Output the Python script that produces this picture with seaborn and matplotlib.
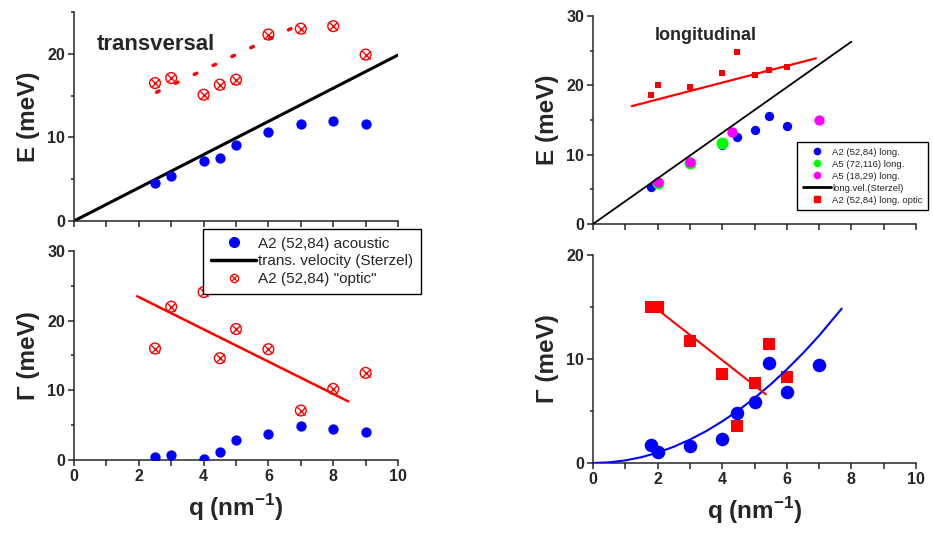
import numpy as np
import pandas as pd
import seaborn as sns
import matplotlib.pyplot as plt
from matplotlib.lines import Line2D
from matplotlib.legend_handler import HandlerTuple
from matplotlib.ticker import MultipleLocator

# ---- transversal data ----
t_q = [2.5, 3, 4, 4.5, 5, 6, 7, 8, 9]
t_E_ac = [4.55, 5.4, 7.2, 7.5, 9.05, 10.7, 11.6, 11.9, 11.65]
t_E_op = [16.5, 17.1, 15.1, 16.3, 16.9, 22.3, 23.0, 23.3, 19.9]
t_G_ac = [0.4, 0.65, 0.15, 1.15, 2.9, 3.75, 4.95, 4.45, 3.95]
t_G_op = [16.0, 22.0, 24.1, 14.6, 18.8, 15.9, 7.1, 10.2, 12.5]
t_vel_q = [0, 10]
t_vel_E = [0, 19.85]
t_opfit_q = [2.55, 6.75]
t_opfit_E = [15.4, 23.1]
t_Gfit_q = [1.95, 8.47]
t_Gfit = [23.5, 8.4]

# ---- longitudinal data ----
l_q_a2 = [1.8, 2.0, 4.0, 4.45, 5.0, 5.45, 6.0]
l_E_a2 = [5.4, 6.1, 11.4, 12.5, 13.6, 15.6, 14.1]
l_q_a5 = [2.0, 3.0, 4.0]
l_E_a5 = [5.9, 8.85, 11.7]
l_q_a5b = [2.0, 3.0, 4.3, 7.0]
l_E_a5b = [6.1, 8.95, 13.2, 15.0]
l_vel_q = [0, 8]
l_vel_E = [0, 26.3]
l_q_op = [1.8, 2.0, 3.0, 4.0, 4.45, 5.0, 5.45, 6.0]
l_E_op = [18.6, 20.0, 19.8, 21.8, 24.8, 21.5, 22.2, 22.6]
l_opfit_q = [1.2, 6.9]
l_opfit_E = [17.0, 23.9]
l_q_G = [1.8, 2.0, 3.0, 4.0, 4.45, 5.0, 5.45, 6.0, 7.0]
l_G_ac = [1.75, 1.05, 1.6, 2.3, 4.8, 5.85, 9.65, 6.85, 9.4]
l_G_op = [15.0, 15.0, 11.75, 8.55, 3.6, 7.65, 11.45, 8.3]
l_Gopfit_q = [1.9, 5.35]
l_Gopfit = [15.0, 6.6]
l_Gacfit_q = [0, 0.5, 1, 1.5, 2, 2.5, 3, 3.5, 4, 4.5, 5, 5.5, 6, 6.5, 7, 7.7]
l_Gacfit = [0, 0.06, 0.25, 0.56, 1.0, 1.56, 2.25, 3.06, 4.0, 5.06, 6.25, 7.56, 9.0, 10.56, 12.25, 14.85]

sns.set_style("ticks")
plt.rcParams['font.family'] = ['Liberation Sans', 'DejaVu Sans']
plt.rcParams['mathtext.fontset'] = 'custom'
plt.rcParams['mathtext.bf'] = 'Liberation Sans:bold'
plt.rcParams['mathtext.rm'] = 'Liberation Sans:bold'

fig = plt.figure(figsize=(9.33, 5.36), dpi=100)
ax_tl = fig.add_axes([0.0793, 0.5877, 0.3473, 0.390])
ax_bl = fig.add_axes([0.0793, 0.1418, 0.3473, 0.390])
ax_tr = fig.add_axes([0.6356, 0.5821, 0.3462, 0.388])
ax_br = fig.add_axes([0.6356, 0.1362, 0.3462, 0.388])

BLUE, RED, GREEN, MAG = '#0000ff', '#ff0000', '#00ff00', '#ff00ff'


def optic_marks(ax, x, y, s=60):
    # circle with a cross inside
    sns.scatterplot(x=x, y=y, ax=ax, marker='o', s=s, facecolor='none',
                    edgecolor=RED, linewidth=1.0, zorder=4)
    sns.scatterplot(x=x, y=y, ax=ax, marker='x', s=s * 0.6, color=RED,
                    linewidth=1.0, zorder=4)


# top left: transversal E
sns.lineplot(x=t_vel_q, y=t_vel_E, ax=ax_tl, color='black', linewidth=2.2)
sns.lineplot(x=t_opfit_q, y=t_opfit_E, ax=ax_tl, color=RED, linewidth=2.5,
             linestyle=(0, (0.8, 5.2)), dash_capstyle='round')
sns.scatterplot(x=t_q, y=t_E_ac, ax=ax_tl, color=BLUE, s=55, linewidth=0, zorder=4)
optic_marks(ax_tl, t_q, t_E_op)
ax_tl.text(0.7, 20.5, 'transversal', fontsize=16, fontweight='bold')

# bottom left: transversal Gamma
sns.lineplot(x=t_Gfit_q, y=t_Gfit, ax=ax_bl, color=RED, linewidth=1.8)
sns.scatterplot(x=t_q, y=t_G_ac, ax=ax_bl, color=BLUE, s=55, linewidth=0, zorder=4)
optic_marks(ax_bl, t_q, t_G_op)

# top right: longitudinal E
sns.scatterplot(x=l_q_a2, y=l_E_a2, ax=ax_tr, color=BLUE, s=45, linewidth=0, zorder=3)
sns.scatterplot(x=l_q_a5, y=l_E_a5, ax=ax_tr, color=GREEN, s=75, linewidth=0, zorder=3)
sns.scatterplot(x=l_q_a5b, y=l_E_a5b, ax=ax_tr, color=MAG, s=55, linewidth=0, zorder=3)
sns.lineplot(x=l_vel_q, y=l_vel_E, ax=ax_tr, color='black', linewidth=1.3, zorder=4)
sns.lineplot(x=l_opfit_q, y=l_opfit_E, ax=ax_tr, color=RED, linewidth=1.6)
sns.scatterplot(x=l_q_op, y=l_E_op, ax=ax_tr, color=RED, marker='s', s=20, linewidth=0, zorder=3)
ax_tr.text(1.92, 26.5, 'longitudinal', fontsize=13, fontweight='bold')

# bottom right: longitudinal Gamma
sns.scatterplot(x=l_q_G, y=l_G_ac, ax=ax_br, color=BLUE, s=95, linewidth=0, zorder=3)
sns.scatterplot(x=l_q_op, y=l_G_op, ax=ax_br, color=RED, marker='s', s=85, linewidth=0, zorder=3)
sns.lineplot(x=l_Gacfit_q, y=l_Gacfit, ax=ax_br, color=BLUE, linewidth=1.5, zorder=4)
sns.lineplot(x=l_Gopfit_q, y=l_Gopfit, ax=ax_br, color=RED, linewidth=1.5, zorder=4)

ylims = {ax_tl: 25, ax_bl: 30, ax_tr: 30, ax_br: 20}
for ax in [ax_tl, ax_bl, ax_tr, ax_br]:
    ax.set_xlim(0, 10)
    ax.set_ylim(0, ylims[ax])
    for sp in ['top', 'right']:
        ax.spines[sp].set_visible(False)
    for sp in ['left', 'bottom']:
        ax.spines[sp].set_linewidth(1.1)
    ax.xaxis.set_major_locator(MultipleLocator(2))
    ax.xaxis.set_minor_locator(MultipleLocator(1))
    ax.yaxis.set_major_locator(MultipleLocator(10))
    ax.yaxis.set_minor_locator(MultipleLocator(5))
    ax.tick_params(axis='both', which='major', direction='out', length=4.5,
                   width=1.1, labelsize=11.5, pad=2)
    ax.tick_params(axis='x', which='minor', direction='out', length=4.0, width=1.1)
    ax.tick_params(axis='y', which='minor', direction='out', length=2.5, width=1.1)
    for lab in ax.get_xticklabels() + ax.get_yticklabels():
        lab.set_fontweight('bold')
    ax.set_xlabel('')
    ax.patch.set_alpha(0)

ax_tl.tick_params(axis='x', labelbottom=False)
ax_tr.tick_params(axis='x', labelbottom=False)

ax_tl.set_ylabel('E (meV)', fontsize=17.5, fontweight='bold', labelpad=5)
ax_tr.set_ylabel('E (meV)', fontsize=17.5, fontweight='bold', labelpad=5)
ax_bl.set_ylabel('\u0393 (meV)', fontsize=17.5, fontweight='bold', labelpad=5)
ax_br.set_ylabel('\u0393 (meV)', fontsize=17.5, fontweight='bold', labelpad=5)
for ax in [ax_bl, ax_br]:
    ax.set_xlabel(r'q (nm$^{\mathbf{-1}}$)', fontsize=17.5, fontweight='bold', labelpad=6)

# legend transversal
h_ac = Line2D([], [], marker='o', color=BLUE, linestyle='none', markersize=7)
h_vel = Line2D([], [], color='black', linewidth=2.5)
h_op1 = Line2D([], [], marker='o', markerfacecolor='none', markeredgecolor=RED,
               linestyle='none', markersize=6, markeredgewidth=0.9)
h_op2 = Line2D([], [], marker='x', color=RED, linestyle='none', markersize=5,
               markeredgewidth=0.9)
leg1 = fig.legend([h_ac, h_vel, (h_op1, h_op2)],
                  ['A2 (52,84) acoustic', 'trans. velocity (Sterzel)', 'A2 (52,84) "optic"'],
                  handler_map={tuple: HandlerTuple(ndivide=1)},
                  loc='upper left', bbox_to_anchor=(203 / 933, 1 - 229 / 536),
                  fontsize=11, frameon=True, fancybox=False, edgecolor='black',
                  framealpha=1, borderpad=0.5, labelspacing=0.25, handlelength=3.0,
                  handletextpad=0.1, borderaxespad=0)
leg1.get_frame().set_linewidth(1.0)
leg1.set_zorder(10)

# legend longitudinal
hl = [Line2D([], [], marker='o', color=BLUE, linestyle='none', markersize=4.5),
      Line2D([], [], marker='o', color=GREEN, linestyle='none', markersize=4.5),
      Line2D([], [], marker='o', color=MAG, linestyle='none', markersize=4.5),
      Line2D([], [], color='black', linewidth=2.0),
      Line2D([], [], marker='s', color=RED, linestyle='none', markersize=4)]
leg2 = fig.legend(hl, ['A2 (52,84) long.', 'A5 (72,116) long.', 'A5 (18,29) long.',
                       'long.vel.(Sterzel)', 'A2 (52,84) long. optic'],
                  loc='upper left', bbox_to_anchor=(797 / 933, 1 - 142 / 536),
                  fontsize=6.8, frameon=True, fancybox=False, edgecolor='black',
                  framealpha=1, borderpad=0.6, labelspacing=0.32, handlelength=3.0,
                  handletextpad=0.1, borderaxespad=0)
leg2.get_frame().set_linewidth(1.0)

fig.savefig('out.png', dpi=100)
